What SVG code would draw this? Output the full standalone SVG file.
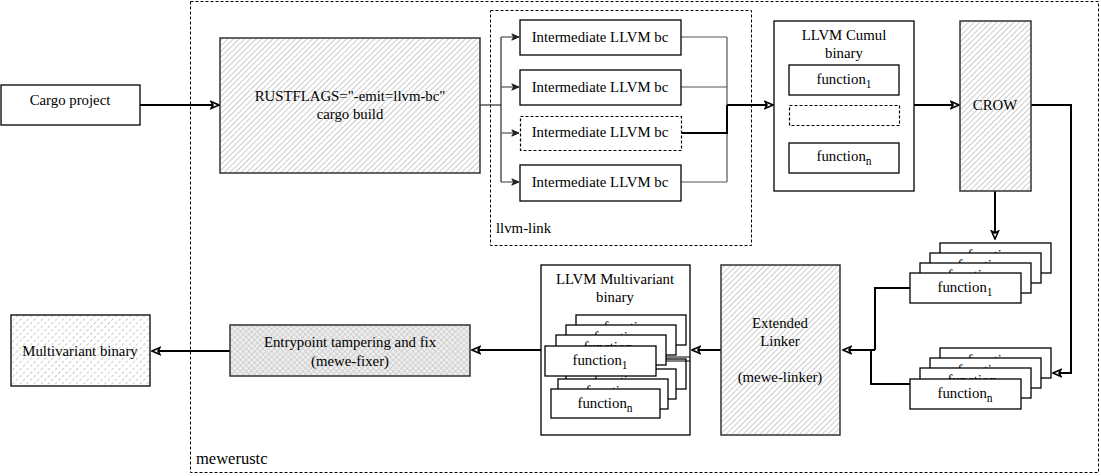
<svg xmlns="http://www.w3.org/2000/svg" width="1101" height="476" viewBox="0 0 1101 476" font-family="'Liberation Serif', 'Times New Roman', 'DejaVu Serif', serif">
<style>
text{font-family:'Liberation Serif','Times New Roman','DejaVu Serif',serif;font-size:14.8px;fill:#000;text-anchor:middle}
.box{fill:#fff;stroke:#000;stroke-width:1.3}
.dash{fill:none;stroke:#000;stroke-width:1;stroke-dasharray:3 2}
.dashw{fill:#fff;stroke:#000;stroke-width:1.2;stroke-dasharray:3 2}
.hatch{fill:url(#hatch);stroke:#333;stroke-width:1.5}
.conn{fill:none;stroke:#000;stroke-width:2}
.thin{fill:none;stroke:#555;stroke-width:1.2}
.sub{font-size:11.5px}
</style>
<defs>
<pattern id="hatch" patternUnits="userSpaceOnUse" width="4" height="4" patternTransform="rotate(45)">
<rect width="4" height="4" fill="#fff"/>
<line x1="0" y1="0" x2="0" y2="4" stroke="#aaa" stroke-width="1.2"/>
</pattern>
<pattern id="hatchd" patternUnits="userSpaceOnUse" width="5" height="5" patternTransform="rotate(45)">
<rect width="5" height="5" fill="#fff"/>
<line x1="0" y1="0" x2="0" y2="3" stroke="#aaa" stroke-width="1.2"/>
</pattern>
<pattern id="cross" patternUnits="userSpaceOnUse" width="4" height="4" patternTransform="rotate(45)">
<rect width="4" height="4" fill="#eee"/>
<line x1="0" y1="0" x2="0" y2="4" stroke="#bbb" stroke-width="1"/>
<line x1="0" y1="0" x2="4" y2="0" stroke="#bbb" stroke-width="1"/>
</pattern>
<marker id="arr" viewBox="0 0 10 10" refX="9" refY="5" markerWidth="10" markerHeight="10" orient="auto" markerUnits="userSpaceOnUse">
<path d="M1,1.5 L9,5 L1,8.5 L3,5 Z" fill="#fff" stroke="#000" stroke-width="1.6"/>
</marker>
<marker id="arrg" viewBox="0 0 10 10" refX="9" refY="5" markerWidth="9" markerHeight="9" orient="auto" markerUnits="userSpaceOnUse">
<path d="M1,1.5 L9,5 L1,8.5 L3,5 Z" fill="#222" stroke="#222" stroke-width="1"/>
</marker>
</defs>

<g id="mewerustc">
<rect x="190.5" y="1.5" width="908" height="471" class="dash"/>
<text x="196" y="464" style="text-anchor:start;font-size:16.5px">mewerustc</text>
</g>

<g id="llvm-link">
<rect x="490.5" y="10.5" width="261" height="235" class="dash"/>
<text x="496" y="233" style="text-anchor:start">llvm-link</text>
</g>

<g id="connectors">
<path d="M140,105 H219" class="conn" marker-end="url(#arr)"/>
<path d="M480,105 H501 M501,37 V182" fill="none" stroke="#000" stroke-width="1"/>
<path d="M501,37 H519" class="thin" marker-end="url(#arrg)"/>
<path d="M501,87 H519" class="thin" marker-end="url(#arrg)"/>
<path d="M501,133 H519" class="thin" marker-end="url(#arrg)"/>
<path d="M501,182 H519" class="thin" marker-end="url(#arrg)"/>
<path d="M681,37 H727 M681,87 H727 M681,182 H727 M727,37 V182" class="thin"/>
<path d="M681,133 H727 V105" fill="none" stroke="#000" stroke-width="2"/>
<path d="M727,105 H773" class="conn" marker-end="url(#arr)"/>
<path d="M914,105 H959" class="conn" marker-end="url(#arr)"/>
<path d="M1031,105 H1071 V373 H1053" class="conn" marker-end="url(#arr)"/>
<path d="M995,191 V239" class="conn" marker-end="url(#arr)"/>
<path d="M910,288 H875 V350 M922,384 H871 V350 M875,350 H843" class="conn" marker-end="url(#arr)"/>
<path d="M721,350 H692" class="conn" marker-end="url(#arr)"/>
<path d="M541,350 H472" class="conn" marker-end="url(#arr)"/>
<path d="M230,351 H152" class="conn" marker-end="url(#arr)"/>
</g>

<g id="cargo-project">
<rect x="1" y="85" width="139" height="40" class="box"/>
<text x="70" y="105">Cargo project</text>
</g>

<g id="rustflags">
<rect x="220" y="38" width="260" height="135" class="hatch"/>
<text x="350" y="101">RUSTFLAGS="-emit=llvm-bc"</text>
<text x="350" y="119">cargo build</text>
</g>

<g id="ir1">
<rect x="520" y="20" width="161" height="35" class="box"/>
<text x="600" y="42">Intermediate LLVM bc</text>
</g>
<g id="ir2">
<rect x="520" y="70" width="161" height="35" class="box"/>
<text x="600" y="92">Intermediate LLVM bc</text>
</g>
<g id="ir3">
<rect x="520.5" y="116.5" width="161" height="34" class="dashw"/>
<text x="600" y="137">Intermediate LLVM bc</text>
</g>
<g id="ir4">
<rect x="520" y="165" width="161" height="36" class="box"/>
<text x="600" y="187">Intermediate LLVM bc</text>
</g>

<g id="llvm-cumul">
<rect x="774" y="21" width="140" height="170" class="box"/>
<text x="844" y="40">LLVM Cumul</text>
<text x="844" y="58">binary</text>
<rect x="789" y="65" width="110" height="30" class="box"/>
<text x="844" y="84">function<tspan class="sub" dy="4">1</tspan></text>
<rect x="789.5" y="105.5" width="110" height="20" class="dashw"/>
<rect x="789" y="143" width="110" height="30" class="box"/>
<text x="844" y="161">function<tspan class="sub" dy="4">n</tspan></text>
</g>

<g id="crow">
<rect x="960" y="21" width="71" height="170" class="hatch"/>
<text x="995" y="110">CROW</text>
</g>

<g id="stack-f1">
<rect x="940" y="243" width="111" height="30" class="box"/>
<text x="995" y="260">function<tspan class="sub" dy="4">1</tspan></text>
<rect x="930" y="253" width="111" height="30" class="box"/>
<text x="985" y="270">function<tspan class="sub" dy="4">1</tspan></text>
<rect x="920" y="263" width="111" height="30" class="box"/>
<text x="975" y="280">function<tspan class="sub" dy="4">1</tspan></text>
<rect x="910" y="273" width="111" height="30" class="box"/>
<text x="965" y="292">function<tspan class="sub" dy="4">1</tspan></text>
</g>

<g id="stack-fn">
<rect x="940" y="348" width="111" height="30" class="box"/>
<text x="995" y="365">function<tspan class="sub" dy="4">n</tspan></text>
<rect x="930" y="358" width="111" height="30" class="box"/>
<text x="985" y="375">function<tspan class="sub" dy="4">n</tspan></text>
<rect x="920" y="368" width="111" height="30" class="box"/>
<text x="975" y="385">function<tspan class="sub" dy="4">n</tspan></text>
<rect x="910" y="379" width="111" height="30" class="box"/>
<text x="965" y="398">function<tspan class="sub" dy="4">n</tspan></text>
</g>

<g id="extended-linker">
<rect x="721" y="265" width="119" height="170" class="hatch"/>
<text x="780" y="328">Extended</text>
<text x="780" y="346">Linker</text>
<text x="780" y="382">(mewe-linker)</text>
</g>

<g id="llvm-multivariant">
<rect x="541" y="265" width="149" height="170" class="box"/>
<text x="615" y="284">LLVM Multivariant</text>
<text x="615" y="302">binary</text>
<rect x="576" y="359" width="110" height="30" class="box"/>
<text x="631" y="376">function<tspan class="sub" dy="4">n</tspan></text>
<rect x="566" y="369" width="110" height="30" class="box"/>
<text x="621" y="386">function<tspan class="sub" dy="4">n</tspan></text>
<rect x="558" y="379" width="110" height="30" class="box"/>
<text x="613" y="396">function<tspan class="sub" dy="4">n</tspan></text>
<rect x="576" y="315" width="110" height="30" class="box"/>
<text x="631" y="332">function<tspan class="sub" dy="4">1</tspan></text>
<rect x="566" y="325" width="110" height="30" class="box"/>
<text x="621" y="342">function<tspan class="sub" dy="4">1</tspan></text>
<rect x="556" y="335" width="110" height="30" class="box"/>
<text x="611" y="352">function<tspan class="sub" dy="4">1</tspan></text>
<rect x="545" y="346" width="111" height="30" class="box"/>
<text x="600" y="365">function<tspan class="sub" dy="4">1</tspan></text>
<rect x="551" y="389" width="109" height="29" class="box"/>
<text x="605" y="408">function<tspan class="sub" dy="4">n</tspan></text>
<path d="M666,357 H690 M666,361 H690" fill="none" stroke="#000" stroke-width="1"/>
</g>

<g id="entrypoint">
<rect x="230" y="325" width="240" height="51" style="fill:url(#cross);stroke:#333;stroke-width:1.5"/>
<text x="350" y="347">Entrypoint tampering and fix</text>
<text x="350" y="366">(mewe-fixer)</text>
</g>

<g id="multivariant-binary">
<rect x="11" y="315" width="139" height="71" style="fill:url(#hatchd);stroke:#000;stroke-width:1.3"/>
<text x="80" y="356">Multivariant binary</text>
</g>
</svg>
